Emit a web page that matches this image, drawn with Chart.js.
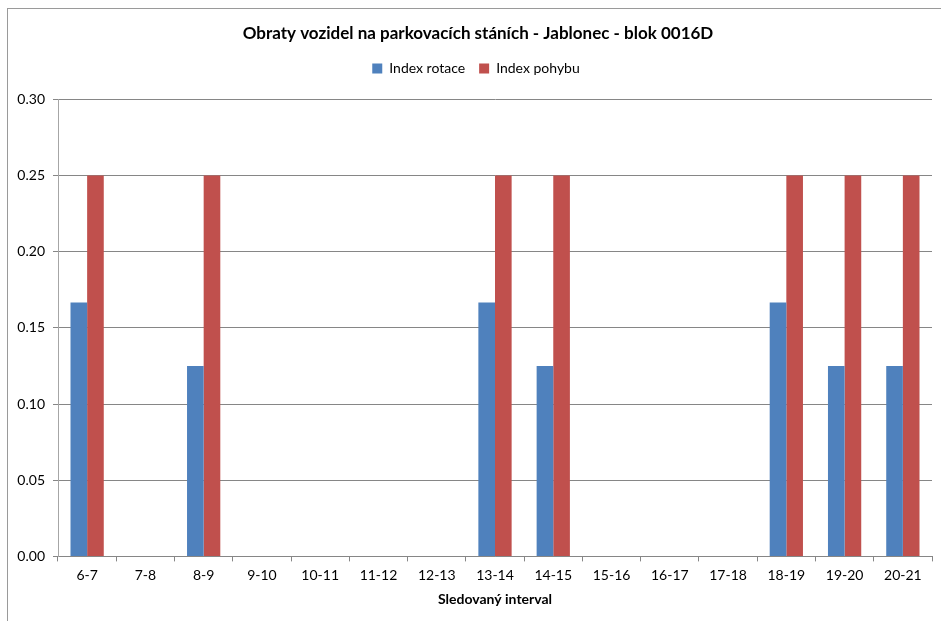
<!DOCTYPE html>
<html><head><meta charset="utf-8">
<script src="https://cdn.jsdelivr.net/npm/chart.js@4"></script>
<style>
html,body{margin:0;padding:0;background:#fff;overflow:hidden}
#wrap{position:absolute;left:0;top:0;width:941px;height:621px}
#frame{position:absolute;left:7px;top:8px;width:960px;height:640px;border-top:1px solid #9a9a9a;border-left:1px solid #9a9a9a}
canvas{position:absolute;left:0;top:0}
</style></head>
<body>
<div id="wrap"><div id="frame"></div><canvas id="c" width="941" height="621"></canvas></div>
<script>
const categories = ["6-7","7-8","8-9","9-10","10-11","11-12","12-13","13-14","14-15","15-16","16-17","17-18","18-19","19-20","20-21"];
const indexRotace = [0.1667,0,0.125,0,0,0,0,0.1667,0.125,0,0,0,0.1667,0.125,0.125];
const indexPohybu = [0.25,0,0.25,0,0,0,0,0.25,0.25,0,0,0,0.25,0.25,0.25];
const yTicks = [0,0.05,0.10,0.15,0.20,0.25,0.30];
const titleText = "Obraty vozidel na parkovacích stáních - Jablonec - blok 0016D";
const xTitle = "Sledovaný interval";

const FONT = "Lato";
function shiftDraw(box, dx) {
  const orig = box.draw;
  box.draw = function() {
    const ctx = this.ctx;
    ctx.save(); ctx.translate(dx, 0); orig.apply(this, arguments); ctx.restore();
  };
}
const tweakBoxes = {
  id: 'tweakBoxes',
  afterInit(chart) {
    const lg = chart.legend;
    if (lg) {
      const orig = lg.fit;
      lg.fit = function() { orig.call(this); this.height += 14; };
      shiftDraw(lg, 10);
    }
    if (chart.titleBlock) shiftDraw(chart.titleBlock, 12);
  }
};
new Chart(document.getElementById('c'), {
  type: 'bar',
  data: {
    labels: categories,
    datasets: [
      {label: "Index rotace", data: indexRotace, backgroundColor: "#4F81BD", borderWidth: 0},
      {label: "Index pohybu", data: indexPohybu, backgroundColor: "#C0504D", borderWidth: 0}
    ]
  },
  plugins: [tweakBoxes],
  options: {
    responsive: false,
    animation: false,
    devicePixelRatio: 1,
    layout: {padding: {left: 0, right: 9, top: 0, bottom: 13}},
    datasets: {bar: {categoryPercentage: 0.571, barPercentage: 1.0}},
    plugins: {
      title: {display: true, text: titleText, color: "#000",
        font: {family: FONT, size: 17, weight: 'bold'}, padding: {top: 23, bottom: 4}},
      legend: {display: true, position: 'top',
        labels: {boxWidth: 10, boxHeight: 10, color: "#000", font: {family: FONT, size: 14}, padding: 14}},
      tooltip: {enabled: false}
    },
    scales: {
      x: {
        grid: {display: true, drawOnChartArea: false, drawTicks: true, tickLength: 5, color: "#868686", offset: true},
        border: {display: true, color: "#868686"},
        ticks: {color: "#000", font: {family: FONT, size: 14}, padding: 6, maxRotation: 0, autoSkip: false},
        title: {display: true, text: xTitle, color: "#000", font: {family: FONT, size: 14, weight: 'bold'}, padding: {top: 1, bottom: 0}}
      },
      y: {
        min: 0, max: 0.30,
        afterFit: s => { s.width = 58; },
        afterBuildTicks: s => { s.ticks = yTicks.map(v => ({value: v})); },
        grid: {color: "#868686", tickLength: 5},
        border: {display: true, color: "#a6a6a6"},
        ticks: {color: "#000", font: {family: FONT, size: 14}, padding: 8,
          callback: v => Number(v).toFixed(2)}
      }
    }
  }
});
</script>
</body></html>
